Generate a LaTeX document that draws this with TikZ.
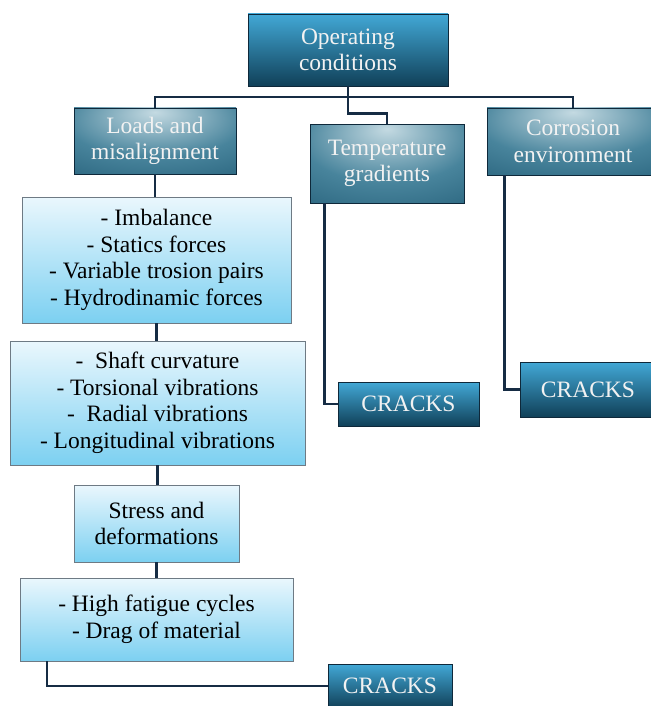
\documentclass[tikz,border=0pt]{standalone}
\usepackage{fontspec}
\setmainfont{Liberation Serif}
\usetikzlibrary{positioning}

\definecolor{linkcol}{RGB}{22,44,68}
\definecolor{darkedge}{RGB}{14,40,58}
\definecolor{listedge}{RGB}{110,122,132}
\definecolor{deeptop}{RGB}{66,168,214}
\definecolor{deepbot}{RGB}{16,64,88}
\definecolor{softin}{RGB}{196,218,226}
\definecolor{softmid}{RGB}{72,132,156}
\definecolor{softout}{RGB}{30,88,114}
\definecolor{listtop}{RGB}{234,247,253}
\definecolor{listbot}{RGB}{124,208,241}

\pgfdeclareradialshading{softglow}{\pgfpoint{0bp}{22bp}}{%
  color(0bp)=(softin); color(28bp)=(softmid); color(58bp)=(softout); color(100bp)=(softout)}

\begin{document}
\begin{tikzpicture}[x=1pt, y=-1pt,
  boxtext/.style={align=center, inner sep=0pt, font=\fontsize{23.5}{26.5}\selectfont},
  deepbox/.style={boxtext, draw=darkedge, line width=0.8pt, text=white!95!black,
    top color=deeptop, bottom color=deepbot},
  softbox/.style={boxtext, draw=darkedge, line width=0.8pt, text=white!95!black,
    shading=softglow},
  listbox/.style={boxtext, draw=listedge, line width=0.8pt,
    top color=listtop, bottom color=listbot},
  link/.style={draw=linkcol, line width=2.8pt}]

  \useasboundingbox (0,0) rectangle (650,706);

  \coordinate (bus) at (348,97);

  % Head
  \node[deepbox, minimum width=200pt, minimum height=72pt] (oper) at (348,50)
    {Operating\\conditions};

  % Three causes
  \node[softbox, minimum width=162pt, minimum height=66pt] (loads) at (155,141)
    {Loads and\\misalignment};
  \node[softbox, minimum width=154pt, minimum height=79pt] (temp) at (387,163.5)
    {Temperature\\gradients};
  \node[softbox, minimum width=172pt, minimum height=67pt] (corr) at (573,141.5)
    {Corrosion\\environment};

  % Chain under loads
  \node[listbox, minimum width=269pt, minimum height=126pt] (forces) at (156.5,260)
    {- Imbalance\\- Statics forces\\- Variable trosion pairs\\- Hydrodinamic forces};
  \node[listbox, minimum width=295pt, minimum height=124pt] (vibr) at (157.5,403)
    {-\ \ Shaft curvature\\- Torsional vibrations\\-\ \ Radial vibrations\\- Longitudinal vibrations};
  \node[listbox, minimum width=165pt, minimum height=77pt] (stress) at (156.5,523.5)
    {Stress and\\deformations};
  \node[listbox, minimum width=273pt, minimum height=83pt] (fatig) at (156.5,619.5)
    {- High fatigue cycles\\- Drag of material};

  % Cracks
  \node[deepbox, minimum width=141pt, minimum height=44pt] (crtemp) at (408.5,404) {CRACKS};
  \node[deepbox, minimum width=136pt, minimum height=55pt] (crcorr) at (588,389.5) {CRACKS};
  \node[deepbox, minimum width=124pt, minimum height=44pt] (crload) at (390,686) {CRACKS};

  % Links
  \draw[link] (loads.north) |- (bus) -| (corr.north);
  \draw[link] (oper.south) -- ++(0,27) -| (temp.north);
  \draw[link] (loads.south) -- (loads.south |- forces.north);
  \draw[link] (forces.south) -- (forces.south |- vibr.north);
  \draw[link] (vibr.south) -- (vibr.south |- stress.north);
  \draw[link] (stress.south) -- (stress.south |- fatig.north);
  \draw[link] ([xshift=-109.5pt]fatig.south) |- (crload.west);
  \draw[link] ([xshift=15pt]temp.south west) |- (crtemp.west);
  \draw[link] ([xshift=18pt]corr.south west) |- (crcorr.west);
\end{tikzpicture}
\end{document}
